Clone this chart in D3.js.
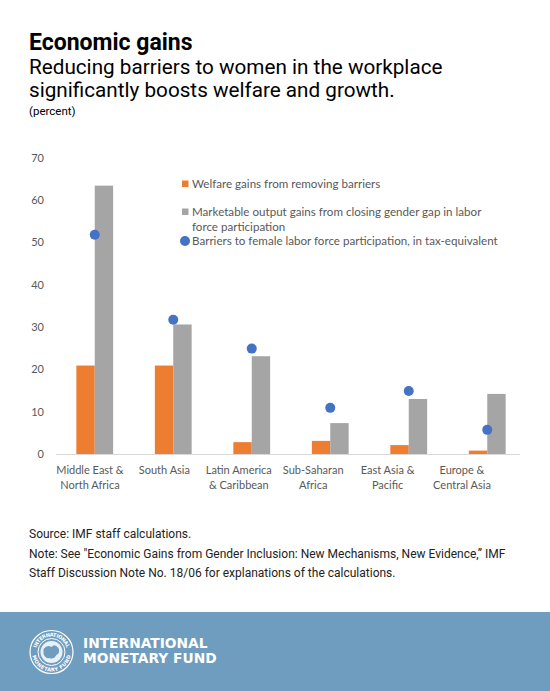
<!DOCTYPE html>
<html>
<head>
<meta charset="utf-8">
<script src="https://cdn.jsdelivr.net/npm/d3@7"></script>
<style>
  html,body{margin:0;padding:0;background:#fff;}
  svg{display:block;}
</style>
</head>
<body>
<svg id="chart" width="550" height="691"></svg>
<script>
const categories = [
  ["Middle East &", "North Africa"],
  ["South Asia"],
  ["Latin America", "& Caribbean"],
  ["Sub-Saharan", "Africa"],
  ["East Asia &", "Pacific"],
  ["Europe &", "Central Asia"]
];
const welfareGains = [20.9, 20.9, 2.8, 3.1, 2.1, 0.8];
const outputGains = [63.4, 30.6, 23.1, 7.3, 13.0, 14.2];
const barriers = [51.8, 31.7, 24.9, 10.9, 14.9, 5.7];
const yTicks = [0, 10, 20, 30, 40, 50, 60, 70];
const legendLabels = [
  ["Welfare gains from removing barriers"],
  ["Marketable output gains from closing gender gap in labor", "force participation"],
  ["Barriers to female labor force participation, in tax-equivalent"]
];

const svg = d3.select("#chart");
const COL_OR = "#ED7D31", COL_GR = "#A5A5A5", COL_BL = "#4472C4";
const titleFont = "Roboto, 'Noto Sans', sans-serif";
const chartFont = "Lato, 'Open Sans', sans-serif";

// Titles
svg.append("text").attr("x", 29).attr("y", 50)
  .attr("font-family", titleFont).attr("font-weight", 700).attr("font-size", 23)
  .attr("fill", "#000").text("Economic gains");
svg.append("text").attr("x", 29).attr("y", 74)
  .attr("font-family", titleFont).attr("font-size", 20.7).attr("fill", "#000")
  .text("Reducing barriers to women in the workplace");
svg.append("text").attr("x", 29).attr("y", 97)
  .attr("font-family", titleFont).attr("font-size", 20.7).attr("fill", "#000")
  .text("significantly boosts welfare and growth.");
svg.append("text").attr("x", 29).attr("y", 115)
  .attr("font-family", titleFont).attr("font-size", 11.5).attr("fill", "#000")
  .text("(percent)");

// Scales
const keys = categories.map(c => c.join(" "));
const x = d3.scaleBand().domain(keys).range([55.5, 526.5]);
const xLab = d3.scaleBand().domain(keys).range([52.8, 499.2]);
const y = d3.scaleLinear().domain([0, 70]).range([454, 157.7]);
const barW = 18.4;

// Y axis labels
const yAxis = d3.axisLeft(y).tickValues(yTicks).tickSize(0).tickPadding(0);
const yg = svg.append("g").attr("transform", "translate(44,0)").call(yAxis);
yg.select(".domain").remove();
yg.selectAll("text").attr("font-family", chartFont).attr("font-size", 11)
  .attr("fill", "#595959");

// Bars
const g = svg.append("g");
g.selectAll(".bo").data(welfareGains).join("rect")
  .attr("x", (d, i) => x(keys[i]) + x.bandwidth() / 2 - barW)
  .attr("width", barW)
  .attr("y", d => y(d)).attr("height", d => y(0) - y(d))
  .attr("fill", COL_OR);
g.selectAll(".bg").data(outputGains).join("rect")
  .attr("x", (d, i) => x(keys[i]) + x.bandwidth() / 2)
  .attr("width", barW)
  .attr("y", d => y(d)).attr("height", d => y(0) - y(d))
  .attr("fill", COL_GR);

// X axis line
svg.append("line").attr("x1", 56).attr("x2", 520).attr("y1", y(0) + 0.5).attr("y2", y(0) + 0.5)
  .attr("stroke", "#D9D9D9").attr("stroke-width", 1);

// Dots
g.selectAll(".dot").data(barriers).join("circle")
  .attr("cx", (d, i) => x(keys[i]) + x.bandwidth() / 2)
  .attr("cy", d => y(d)).attr("r", 5).attr("fill", COL_BL);

// X labels
const xl = svg.append("g");
categories.forEach((lines, i) => {
  const t = xl.append("text").attr("text-anchor", "middle")
    .attr("font-family", chartFont).attr("font-size", 11).attr("fill", "#595959");
  lines.forEach((ln, j) => {
    t.append("tspan").attr("x", xLab(keys[i]) + xLab.bandwidth() / 2)
      .attr("y", 474 + j * 15).text(ln);
  });
});

// Legend
const lg = svg.append("g").attr("font-family", chartFont).attr("font-size", 11.6).attr("fill", "#595959");
const legY = [188, 216, 245];
lg.append("rect").attr("x", 182).attr("y", legY[0] - 7.5).attr("width", 6.5).attr("height", 6.5).attr("fill", COL_OR);
lg.append("rect").attr("x", 182).attr("y", legY[1] - 7.5).attr("width", 6.5).attr("height", 6.5).attr("fill", COL_GR);
lg.append("circle").attr("cx", 185).attr("cy", legY[2] - 4).attr("r", 5).attr("fill", COL_BL);
legendLabels.forEach((lines, i) => {
  const t = lg.append("text");
  lines.forEach((ln, j) => {
    t.append("tspan").attr("x", 192).attr("y", legY[i] + j * 15).text(ln);
  });
});

// Notes
const notes = [
  "Source: IMF staff calculations.",
  "Note: See \"Economic Gains from Gender Inclusion: New Mechanisms, New Evidence,\u201d IMF",
  "Staff Discussion Note No. 18/06 for explanations of the calculations."
];
notes.forEach((n, i) => {
  svg.append("text").attr("x", 29).attr("y", 538 + i * 19.5)
    .attr("font-family", titleFont).attr("font-size", 12).attr("fill", "#222")
    .text(n);
});

// Footer band
svg.append("rect").attr("x", 0).attr("y", 612).attr("width", 550).attr("height", 79).attr("fill", "#6F9DBF");

// Logo seal
const lgo = svg.append("g").attr("transform", "translate(51.5,652)");
lgo.append("circle").attr("r", 21.5).attr("fill", "none").attr("stroke", "#fff").attr("stroke-width", 1.2);
lgo.append("circle").attr("r", 13.5).attr("fill", "none").attr("stroke", "#fff").attr("stroke-width", 1);
lgo.append("circle").attr("r", 11).attr("fill", "#fff").attr("opacity", 0.85);
lgo.append("path").attr("d", "M-8,-3 Q-4,-8 0,-5 Q3,-9 7,-4 Q9,1 5,3 Q2,8 -2,6 Q-6,7 -8,2 Z")
  .attr("fill", "#6F9DBF");
const defs = svg.append("defs");
defs.append("path").attr("id", "arcTop").attr("d", "M-17.5,0 A17.5,17.5 0 0,1 17.5,0");
defs.append("path").attr("id", "arcBot").attr("d", "M-17.5,0 A17.5,17.5 0 0,0 17.5,0");
lgo.append("text").attr("font-family", "DejaVu Sans, sans-serif").attr("font-size", 5).attr("fill", "#fff")
  .attr("font-weight", 700).attr("dy", 2)
  .append("textPath").attr("href", "#arcTop").attr("startOffset", "50%").attr("text-anchor", "middle")
  .text("INTERNATIONAL");
lgo.append("text").attr("font-family", "DejaVu Sans, sans-serif").attr("font-size", 5).attr("fill", "#fff")
  .attr("font-weight", 700).attr("dy", 2)
  .append("textPath").attr("href", "#arcBot").attr("startOffset", "50%").attr("text-anchor", "middle")
  .text("MONETARY FUND");

svg.append("text").attr("x", 83).attr("y", 648)
  .attr("font-family", "'DejaVu Sans', sans-serif").attr("font-weight", 700).attr("font-size", 13.8)
  .attr("fill", "#fff").text("INTERNATIONAL");
svg.append("text").attr("x", 83).attr("y", 663)
  .attr("font-family", "'DejaVu Sans', sans-serif").attr("font-weight", 700).attr("font-size", 13.8)
  .attr("fill", "#fff").text("MONETARY FUND");
</script>
</body>
</html>
